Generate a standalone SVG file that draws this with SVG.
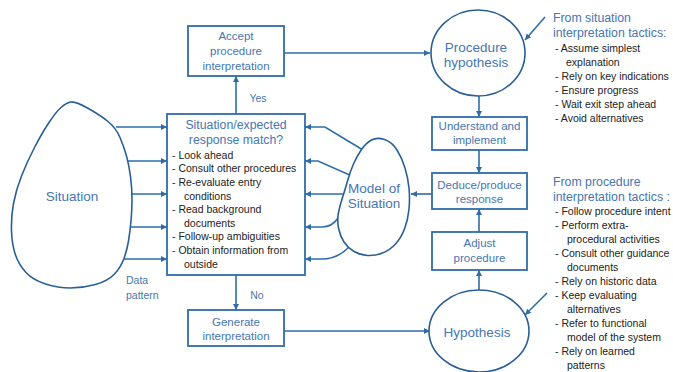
<svg xmlns="http://www.w3.org/2000/svg" width="673" height="372" viewBox="0 0 673 372">
<style>
.box{fill:#fff;stroke:#2F6DA8;stroke-width:1.8}
.blob{fill:#fff;stroke:#2A5F96;stroke-width:1.6}
.ln{fill:none;stroke:#2F6DA8;stroke-width:1.6}
.lbl{font-family:"Liberation Sans",Arial,sans-serif;fill:#4676B3;text-anchor:middle}
.t11{font-size:11.5px}
.t12{font-size:12.3px}
.t13{font-size:13.5px}
.b{font-family:"Liberation Sans",Arial,sans-serif;font-size:10.5px;fill:#222}
.h{font-family:"Liberation Sans",Arial,sans-serif;font-size:12.3px;fill:#4676B3}
.s{font-family:"Liberation Sans",Arial,sans-serif;font-size:10.5px;fill:#4676B3}
</style>
<defs>
<marker id="ah" markerUnits="userSpaceOnUse" markerWidth="7" markerHeight="7" refX="6" refY="3" orient="auto">
<path d="M0,0 L6,3 L0,6 z" fill="#2F6DA8"/>
</marker>
</defs>
<rect width="673" height="372" fill="#fff"/>

<g id="connectors">
<!-- Situation -> main box -->
<path class="ln" d="M116,127 L167,127" marker-end="url(#ah)"/>
<path class="ln" d="M128,161 L167,161" marker-end="url(#ah)"/>
<path class="ln" d="M132,194 L167,194" marker-end="url(#ah)"/>
<path class="ln" d="M130,227 L167,227" marker-end="url(#ah)"/>
<path class="ln" d="M124,259 L167,259" marker-end="url(#ah)"/>
<!-- Model -> main box -->
<path class="ln" d="M363,150 L325,127 L305,127" marker-end="url(#ah)"/>
<path class="ln" d="M352,176 L318,161 L305,161" marker-end="url(#ah)"/>
<path class="ln" d="M343,194 L305,194" marker-end="url(#ah)"/>
<path class="ln" d="M338,218 Q332,227 322,227 L305,227" marker-end="url(#ah)"/>
<path class="ln" d="M350,246 Q338,259 322,259 L305,259" marker-end="url(#ah)"/>
<!-- main box yes/no -->
<path class="ln" d="M236,114 L236,76" marker-end="url(#ah)"/>
<path class="ln" d="M236,275 L236,310" marker-end="url(#ah)"/>
<!-- accept -> procedure hypothesis -->
<path class="ln" d="M284,53 L430,53" marker-end="url(#ah)"/>
<!-- generate -> hypothesis -->
<path class="ln" d="M284,331 L430,331" marker-end="url(#ah)"/>
<!-- right column -->
<path class="ln" d="M479,96 L479,117" marker-end="url(#ah)"/>
<path class="ln" d="M479,150 L479,173" marker-end="url(#ah)"/>
<path class="ln" d="M479,232 L479,209" marker-end="url(#ah)"/>
<path class="ln" d="M479,290 L479,270" marker-end="url(#ah)"/>
<path class="ln" d="M432,194 L411,194" marker-end="url(#ah)"/>
<!-- tactics arrows -->
<path class="ln" d="M545,17 L525,40" marker-end="url(#ah)"/>
<path class="ln" d="M547,293 L525,315" marker-end="url(#ah)"/>
</g>

<g id="situation">
<path class="blob" d="M70.5,102 Q75,101 87.5,108 Q100,115 108,121.5 Q116,128 120,137.5 Q124,147 126.5,156 Q129,165 130.5,176.5 Q132,188 132,199 Q132,210 131,221 Q130,232 128.5,241 Q127,250 124,258.5 Q121,267 114.5,274 Q108,281 95.5,284.5 Q83,288 70.5,288 Q58,288 45.5,284 Q33,280 26,272.5 Q19,265 15.5,255 Q12,245 11.5,231 Q11,217 13.5,203.5 Q16,190 21.5,176 Q27,162 34.5,147.5 Q42,133 49,122.5 Q56,112 61,107.5 Q66,103 70.5,102 Z"/>
<text class="lbl t13" x="72" y="200.8">Situation</text>
</g>

<g id="data-pattern">
<text class="s" x="126" y="283.7">Data</text>
<text class="s" x="126" y="298.7">pattern</text>
</g>

<g id="match-box">
<rect class="box" x="167" y="114" width="138" height="161"/>
<text class="lbl t12" x="236" y="129.3">Situation/expected</text>
<text class="lbl t12" x="236" y="144.3">response match?</text>
<text class="b" x="172" y="158.7">- Look ahead</text>
<text class="b" x="172" y="172.3">- Consult other procedures</text>
<text class="b" x="172" y="185.9">- Re-evaluate entry</text>
<text class="b" x="184" y="199.5">conditions</text>
<text class="b" x="172" y="213.1">- Read background</text>
<text class="b" x="184" y="226.7">documents</text>
<text class="b" x="172" y="240.3">- Follow-up ambiguities</text>
<text class="b" x="172" y="253.9">- Obtain information from</text>
<text class="b" x="184" y="267.5">outside</text>
</g>

<g id="yes-label"><text class="s" x="258" y="101.7" text-anchor="middle">Yes</text></g>
<g id="no-label"><text class="s" x="257" y="298.7" text-anchor="middle">No</text></g>

<g id="accept">
<rect class="box" x="188" y="26" width="96" height="50"/>
<text class="lbl t11" x="236" y="40">Accept</text>
<text class="lbl t11" x="236" y="55">procedure</text>
<text class="lbl t11" x="236" y="70">interpretation</text>
</g>

<g id="generate">
<rect class="box" x="188" y="310" width="96" height="36"/>
<text class="lbl t11" x="236" y="326">Generate</text>
<text class="lbl t11" x="236" y="340">interpretation</text>
</g>

<g id="model">
<path class="blob" d="M371.5,140 Q377,137 384.5,139.5 Q392,142 397,150 Q402,158 405,168 Q408,178 409,188 Q410,198 409,209 Q408,220 404.5,229 Q401,238 395.5,244 Q390,250 382.5,253 Q375,256 367.5,255.5 Q360,255 354,251.5 Q348,248 344,242 Q340,236 338.5,228 Q337,220 338.5,212.5 Q340,205 342.5,197.5 Q345,190 347.5,181 Q350,172 353.5,164 Q357,156 361.5,149.5 Q366,143 371.5,140 Z"/>
<text class="lbl t13" x="374" y="192.8">Model of</text>
<text class="lbl t13" x="374" y="208">Situation</text>
</g>

<g id="procedure-hypothesis">
<ellipse class="blob" cx="478" cy="53" rx="47" ry="43"/>
<text class="lbl t13" x="476" y="51.8">Procedure</text>
<text class="lbl t13" x="476" y="66.8">hypothesis</text>
</g>

<g id="understand">
<rect class="box" x="432" y="117" width="95" height="33"/>
<text class="lbl t11" x="479.5" y="129.5">Understand and</text>
<text class="lbl t11" x="479.5" y="144">implement</text>
</g>

<g id="deduce">
<rect class="box" x="432" y="173" width="95" height="36"/>
<text class="lbl t11" x="479.5" y="189">Deduce/produce</text>
<text class="lbl t11" x="479.5" y="202.5">response</text>
</g>

<g id="adjust">
<rect class="box" x="432" y="232" width="95" height="38"/>
<text class="lbl t11" x="479.5" y="247">Adjust</text>
<text class="lbl t11" x="479.5" y="262">procedure</text>
</g>

<g id="hypothesis">
<ellipse class="blob" cx="479" cy="331" rx="50" ry="41"/>
<text class="lbl t13" x="477" y="336.8">Hypothesis</text>
</g>

<g id="situation-tactics">
<text class="h" x="553" y="22.3">From situation</text>
<text class="h" x="553" y="37.3">interpretation tactics:</text>
<text class="b" x="555" y="51.7">- Assume simplest</text>
<text class="b" x="566" y="65.7">explanation</text>
<text class="b" x="555" y="79.7">- Rely on key indications</text>
<text class="b" x="555" y="93.7">- Ensure progress</text>
<text class="b" x="555" y="107.7">- Wait exit step ahead</text>
<text class="b" x="555" y="121.7">- Avoid alternatives</text>
</g>

<g id="procedure-tactics">
<text class="h" x="553" y="186.3">From procedure</text>
<text class="h" x="553" y="201.3">interpretation tactics :</text>
<text class="b" x="555" y="215.2">- Follow procedure intent</text>
<text class="b" x="555" y="229.2">- Perform extra-</text>
<text class="b" x="567" y="243.2">procedural activities</text>
<text class="b" x="555" y="257.2">- Consult other guidance</text>
<text class="b" x="567" y="271.2">documents</text>
<text class="b" x="555" y="285.2">- Rely on historic data</text>
<text class="b" x="555" y="299.2">- Keep evaluating</text>
<text class="b" x="567" y="313.2">alternatives</text>
<text class="b" x="555" y="327.2">- Refer to functional</text>
<text class="b" x="567" y="341.2">model of the system</text>
<text class="b" x="555" y="355.2">- Rely on learned</text>
<text class="b" x="567" y="369.2">patterns</text>
</g>
</svg>
